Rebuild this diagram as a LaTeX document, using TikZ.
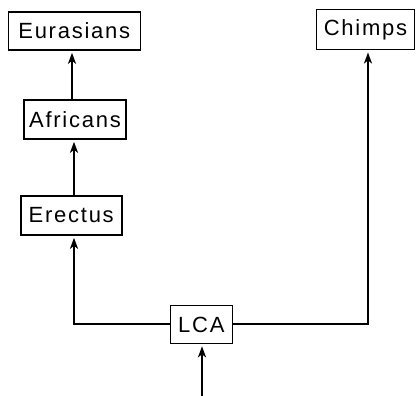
\documentclass[tikz,border=0pt]{standalone}
\usepackage{fontspec}
\setmainfont{Liberation Sans}[LetterSpace=8]
\usetikzlibrary{arrows.meta}
\begin{document}
\begin{tikzpicture}[x=1pt,y=-1pt,
  box/.style={draw, line width=1.6pt, inner sep=0pt, font=\fontsize{22}{26}\selectfont},
  arr/.style={line width=2pt, -{Stealth[length=11pt,width=8pt,inset=3pt]}, shorten >=2pt}]
\useasboundingbox (0,0) rectangle (416,396);
\node[box, minimum width=132pt, minimum height=38pt] (eur) at (74.3,31) {Eurasians};
\node[box, minimum width=98pt, minimum height=40pt] (chimps) at (365.5,29.7) {Chimps};
\node[box, minimum width=102pt, minimum height=39pt] (afr) at (75,119.5) {Africans};
\node[box, minimum width=101pt, minimum height=39pt] (ere) at (71.2,215.5) {Erectus};
\node[box, minimum width=62pt, minimum height=38pt] (lca) at (201.3,324.5) {LCA};
\coordinate (xa) at (72,0);
\coordinate (xb) at (74,0);
\coordinate (xc) at (368,0);
\coordinate (start) at (202,396);
\draw[arr] (afr.north -| xa) -- (eur.south -| xa);
\draw[arr] (ere.north -| xb) -- (afr.south -| xb);
\draw[arr] (lca.west) -| (ere.south -| xb);
\draw[arr] (lca.east) -| (chimps.south -| xc);
\draw[arr] (start) -- (lca.south -| start);
\end{tikzpicture}
\end{document}
